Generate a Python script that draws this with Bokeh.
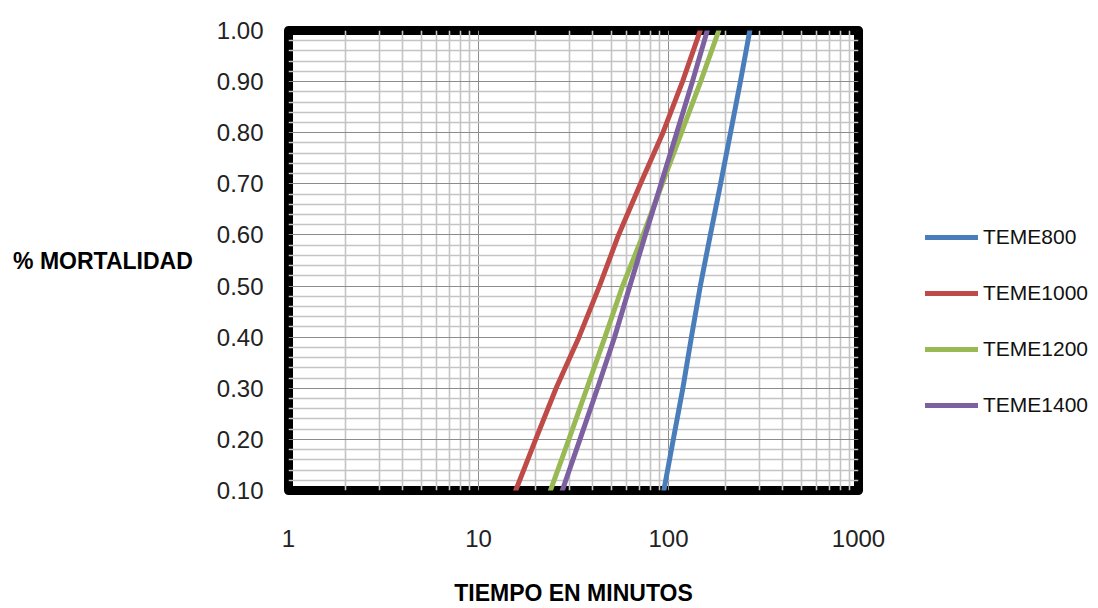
from bokeh.plotting import figure
from bokeh.layouts import row
from bokeh.models import (FixedTicker, NumeralTickFormatter, Legend, LegendItem,
                          Range1d)
from bokeh.embed import file_html
from bokeh.resources import INLINE

# ---- data ----
mortalidad = [0.10, 0.20, 0.30, 0.40, 0.50, 0.60, 0.70, 0.80, 0.90, 1.00]
teme800 = [94.5, 106, 119, 132, 147, 166, 188, 212, 239, 268]
teme1000 = [15.7, 20.0, 25.6, 33.8, 43.3, 54.6, 71.2, 93.5, 118.5, 147]
teme1200 = [23.9, 29.9, 37.2, 46.3, 57.3, 73.5, 92.7, 117, 147.6, 184]
teme1400 = [27.6, 34.2, 42.3, 52.0, 62.6, 75.5, 91.4, 110.5, 133.6, 160]

series_names = ["TEME800", "TEME1000", "TEME1200", "TEME1400"]
series_vals = [teme800, teme1000, teme1200, teme1400]
series_colors = ["#4A7EBB", "#BE4B48", "#98B954", "#7D60A0"]

x_major = [1, 10, 100, 1000]
x_minor = [2, 3, 4, 5, 6, 7, 8, 9, 20, 30, 40, 50, 60, 70, 80, 90,
           200, 300, 400, 500, 600, 700, 800, 900]
y_major = [0.1, 0.2, 0.3, 0.4, 0.5, 0.6, 0.7, 0.8, 0.9, 1.0]
y_minor = [0.12, 0.14, 0.16, 0.18, 0.22, 0.24, 0.26, 0.28, 0.32, 0.34, 0.36, 0.38,
           0.42, 0.44, 0.46, 0.48, 0.52, 0.54, 0.56, 0.58, 0.62, 0.64, 0.66, 0.68,
           0.72, 0.74, 0.76, 0.78, 0.82, 0.84, 0.86, 0.88, 0.92, 0.94, 0.96, 0.98]

FONT = "Liberation Sans"
H = 608

p = figure(width=888, height=H, x_axis_type="log",
           x_range=Range1d(1, 1000), y_range=Range1d(0.1, 1.0),
           output_backend="svg", toolbar_location=None,
           min_border_left=288, min_border_right=30,
           min_border_top=30, min_border_bottom=H - 490)

p.background_fill_color = "white"
p.border_fill_color = "white"
p.outline_line_color = "black"
p.outline_line_width = 9
p.outline_line_join = "round"

# axes
p.xaxis.ticker = FixedTicker(ticks=x_major, minor_ticks=x_minor)
p.yaxis.ticker = FixedTicker(ticks=y_major, minor_ticks=y_minor)
p.yaxis.formatter = NumeralTickFormatter(format="0.00")
p.xaxis.formatter = NumeralTickFormatter(format="0")
for ax in (p.xaxis, p.yaxis):
    ax.axis_line_color = None
    ax.major_tick_line_color = None
    ax.minor_tick_line_color = None
    ax.major_tick_out = 0
    ax.major_tick_in = 0
    ax.minor_tick_out = 0
    ax.major_label_text_font = FONT
    ax.major_label_text_font_size = "24px"
    ax.major_label_text_color = "#222222"
    ax.axis_label_text_font = FONT
    ax.axis_label_text_font_size = "23px"
    ax.axis_label_text_font_style = "bold"
    ax.axis_label_text_color = "black"

p.xaxis.major_label_standoff = 39
p.xaxis.axis_label = "TIEMPO EN MINUTOS"
p.xaxis.axis_label_standoff = 30
p.yaxis.major_label_standoff = 25
p.yaxis.axis_label = "% MORTALIDAD"
p.yaxis.axis_label_orientation = "horizontal"
p.yaxis.axis_label_standoff = 21

# grid
for g in (p.xgrid, p.ygrid):
    g.grid_line_color = "#8c8c8c"
    g.grid_line_width = 1
    g.minor_grid_line_color = "#c4c4c4"
    g.minor_grid_line_width = 1.6

# series on the main plot
for name, vals, col in zip(series_names, series_vals, series_colors):
    p.line(vals, mortalidad, line_color=col, line_width=5,
           line_cap="round", line_join="round")

# legend host figure (same series, out of its view) placed to the right
q = figure(width=206, height=H, x_range=Range1d(0, 1), y_range=Range1d(0, 1),
           output_backend="svg", toolbar_location=None,
           x_axis_location=None, y_axis_location=None,
           min_border=0)
q.outline_line_color = None
q.grid.visible = False
q.border_fill_color = "white"
items = []
for name, vals, col in zip(series_names, series_vals, series_colors):
    r = q.line(vals, mortalidad, line_color=col, line_width=5, line_cap="round")
    items.append(LegendItem(label=name, renderers=[r]))

legend = Legend(items=items, location=(37, 73))
legend.glyph_width = 53
legend.glyph_height = 20
legend.label_standoff = 5
legend.spacing = 32
legend.padding = 0
legend.margin = 0
legend.border_line_color = None
legend.background_fill_alpha = 0
legend.label_text_font = FONT
legend.label_text_font_size = "21px"
legend.label_text_color = "#111111"
q.add_layout(legend, "center")

layout = row(p, q)
open("out.html", "w").write(file_html(layout, INLINE))
